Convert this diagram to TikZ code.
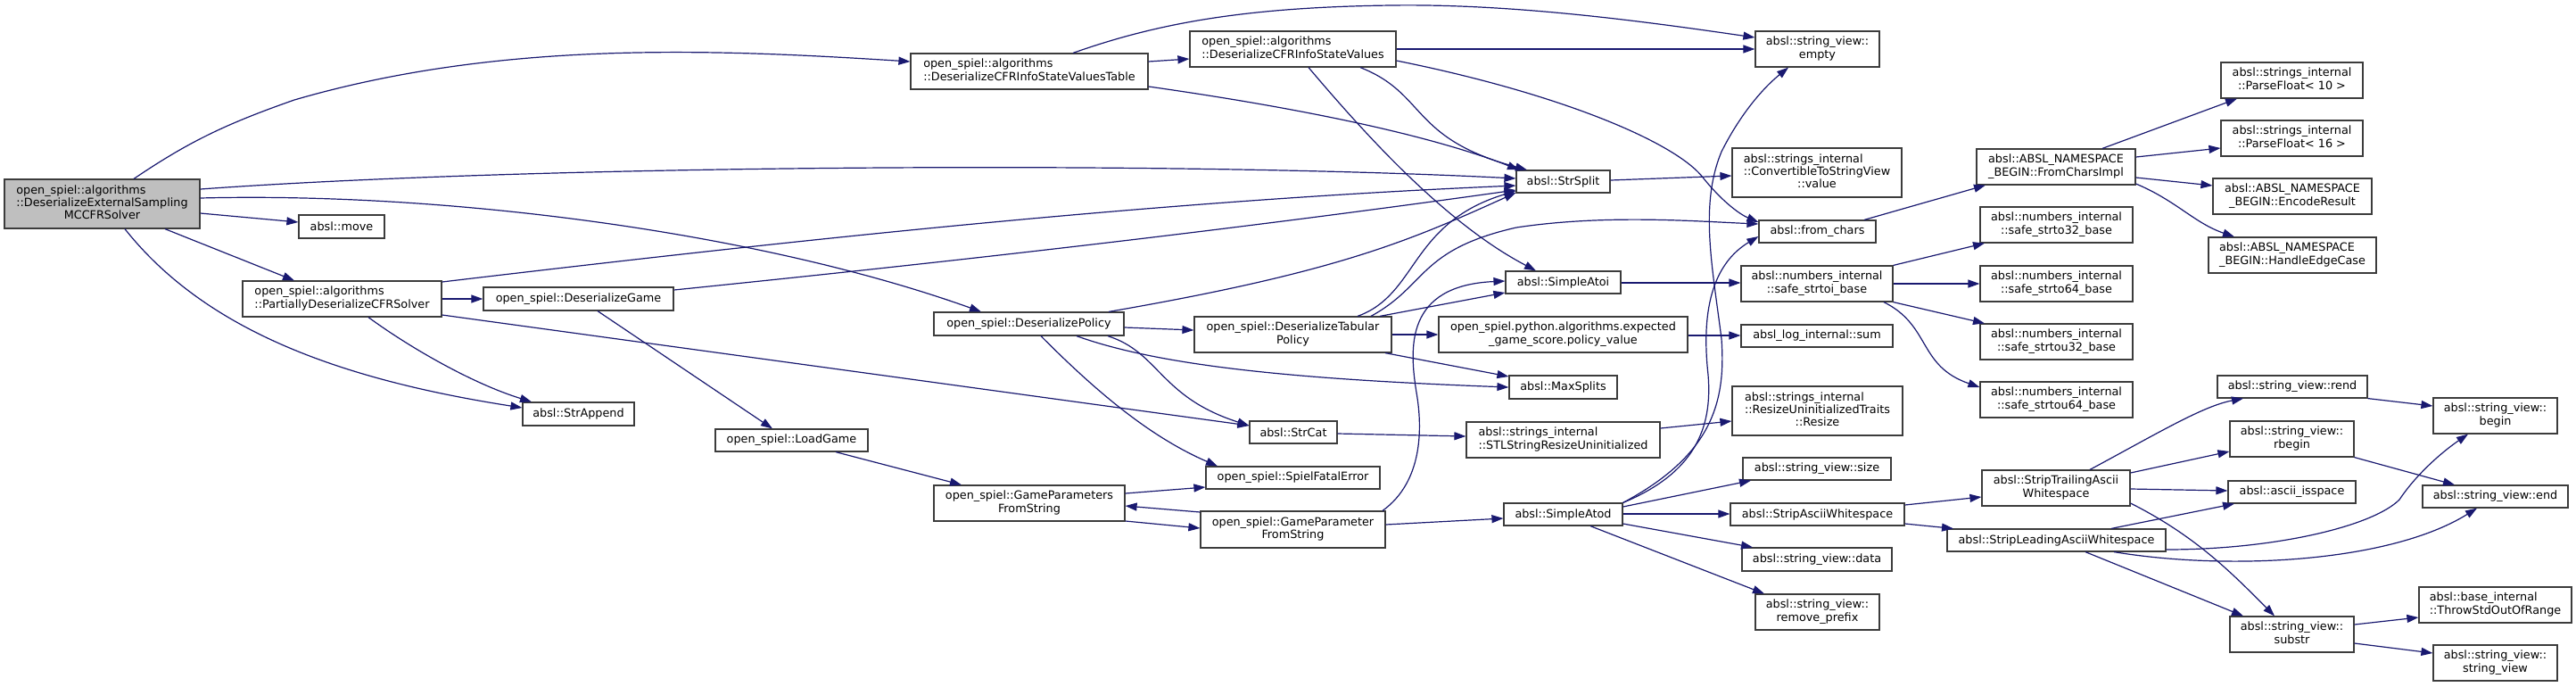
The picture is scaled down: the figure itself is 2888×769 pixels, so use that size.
\documentclass[tikz,border=0pt]{standalone}
\usepackage{fontspec}
\setmainfont{DejaVu Sans}
\usetikzlibrary{arrows.meta}
\definecolor{edgec}{HTML}{191970}
\definecolor{nodeb}{HTML}{3C3C3C}
\definecolor{mainf}{HTML}{BFBFBF}
\newcommand\twol[2]{\begin{tabular}{@{}l@{}}#1\\\multicolumn{1}{@{}c@{}}{#2}\end{tabular}}
\newcommand\threel[3]{\begin{tabular}{@{}l@{}}#1\\#2\\\multicolumn{1}{@{}c@{}}{#3}\end{tabular}}
\newcommand\nd[6]{\node[gbox,minimum width=#4pt,minimum height=#5pt] (#1) at (#2,#3) {#6};}
\tikzset{
  gbox/.style={draw=nodeb, line width=1.2pt, fill=white, inner sep=0pt,
    font=\fontsize{12.8}{14.3}\selectfont},
  ed/.style={draw=edgec, line width=1.2pt, -{Triangle[length=13pt,width=9pt]}}
}
\begin{document}
\begin{tikzpicture}[x=1pt,y=-1pt]
\fill[white] (0,0) rectangle (2888,769);
\useasboundingbox (0,0) rectangle (2888,769);
% nodes
\node[gbox,fill=mainf,minimum width=219pt,minimum height=55pt] (M) at (114.5,228.5) {\threel{open\_spiel::algorithms}{::DeserializeExternalSampling}{MCCFRSolver}};
\nd{move}{383}{254}{96}{26}{absl::move}
\nd{Partial}{383.5}{335}{223}{40}{\twol{open\_spiel::algorithms}{::PartiallyDeserializeCFRSolver}}
\nd{Game}{648.5}{335}{213}{26}{open\_spiel::DeserializeGame}
\nd{StrAppend}{648.5}{464}{125}{26}{absl::StrAppend}
\nd{LoadGame}{887.5}{493.5}{171}{25}{open\_spiel::LoadGame}
\nd{Tbl}{1154}{80}{266}{40}{\twol{open\_spiel::algorithms}{::DeserializeCFRInfoStateValuesTable}}
\nd{Vals}{1449.5}{55}{231}{40}{\twol{open\_spiel::algorithms}{::DeserializeCFRInfoStateValues}}
\nd{Policy}{1153.5}{363}{213}{26}{open\_spiel::DeserializePolicy}
\nd{Tabular}{1449.5}{375}{221}{40}{\twol{open\_spiel::DeserializeTabular}{Policy}}
\nd{GPsFS}{1154}{564}{214}{40}{\twol{open\_spiel::GameParameters}{FromString}}
\nd{StrCat}{1450}{484.5}{98}{25}{absl::StrCat}
\nd{Fatal}{1449.5}{535.5}{195}{25}{open\_spiel::SpielFatalError}
\nd{GPFS}{1449.5}{593.5}{207}{41}{\twol{open\_spiel::GameParameter}{FromString}}
\nd{StrSplit}{1752.5}{203.5}{105}{25}{absl::StrSplit}
\nd{SimpleAtoi}{1752.5}{316.5}{129}{25}{absl::SimpleAtoi}
\nd{PolVal}{1752.5}{375}{279}{40}{\twol{open\_spiel.python.algorithms.expected}{\_game\_score.policy\_value}}
\nd{MaxSplits}{1752.5}{434}{121}{26}{absl::MaxSplits}
\nd{STL}{1752.5}{493}{217}{40}{\twol{absl::strings\_internal}{::STLStringResizeUninitialized}}
\nd{SimpleAtod}{1752.5}{576.5}{133}{25}{absl::SimpleAtod}
\nd{empty}{2037.5}{55}{139}{40}{\twol{absl::string\_view::}{empty}}
\nd{Conv}{2037}{193.5}{190}{55}{\threel{absl::strings\_internal}{::ConvertibleToStringView}{::value}}
\nd{fromchars}{2037.5}{259.5}{131}{25}{absl::from\_chars}
\nd{strtoi}{2037}{318}{170}{40}{\twol{absl::numbers\_internal}{::safe\_strtoi\_base}}
\nd{sum}{2037}{376.5}{170}{25}{absl\_log\_internal::sum}
\nd{Resize}{2037.5}{460.5}{191}{55}{\threel{absl::strings\_internal}{::ResizeUninitializedTraits}{::Resize}}
\nd{size}{2037}{525.5}{166}{25}{absl::string\_view::size}
\nd{StripAscii}{2037.5}{576.5}{195}{25}{absl::StripAsciiWhitespace}
\nd{data}{2037}{627}{168}{26}{absl::string\_view::data}
\nd{prefix}{2037.5}{686}{139}{40}{\twol{absl::string\_view::}{remove\_prefix}}
\nd{FCImpl}{2305}{187}{178}{40}{\twol{absl::ABSL\_NAMESPACE}{\_BEGIN::FromCharsImpl}}
\nd{strto32}{2305.5}{252}{171}{40}{\twol{absl::numbers\_internal}{::safe\_strto32\_base}}
\nd{strto64}{2305.5}{318}{171}{40}{\twol{absl::numbers\_internal}{::safe\_strto64\_base}}
\nd{strtou32}{2305.5}{383}{171}{40}{\twol{absl::numbers\_internal}{::safe\_strtou32\_base}}
\nd{strtou64}{2305.5}{448}{171}{40}{\twol{absl::numbers\_internal}{::safe\_strtou64\_base}}
\nd{Trailing}{2305}{547}{166}{40}{\twol{absl::StripTrailingAscii}{Whitespace}}
\nd{Leading}{2305.5}{605.5}{245}{25}{absl::StripLeadingAsciiWhitespace}
\nd{PF10}{2569.5}{90}{159}{40}{\twol{absl::strings\_internal}{::ParseFloat< 10 >}}
\nd{PF16}{2569.5}{155}{159}{40}{\twol{absl::strings\_internal}{::ParseFloat< 16 >}}
\nd{Encode}{2570}{220}{178}{40}{\twol{absl::ABSL\_NAMESPACE}{\_BEGIN::EncodeResult}}
\nd{Edge}{2570}{286}{188}{40}{\twol{absl::ABSL\_NAMESPACE}{\_BEGIN::HandleEdgeCase}}
\nd{rend}{2570}{433.5}{168}{25}{absl::string\_view::rend}
\nd{rbegin}{2569.5}{492}{139}{40}{\twol{absl::string\_view::}{rbegin}}
\nd{isspace}{2569.5}{551.5}{143}{25}{absl::ascii\_isspace}
\nd{substr}{2569.5}{711}{139}{40}{\twol{absl::string\_view::}{substr}}
\nd{begin}{2797.5}{466}{139}{40}{\twol{absl::string\_view::}{begin}}
\nd{end}{2797.5}{556.5}{163}{25}{absl::string\_view::end}
\nd{Throw}{2797.5}{678}{171}{40}{\twol{absl::base\_internal}{::ThrowStdOutOfRange}}
\nd{svctor}{2797.5}{743}{139}{40}{\twol{absl::string\_view::}{string\_view}}
% edges from main
\draw[ed] (M.north -| 150,0) .. controls (210,160) and (250,140) .. (330,112) .. controls (560,45) and (800,55) .. (Tbl.west |- 0,69);
\draw[ed] (M.east |- 0,212) .. controls (600,185) and (1300,180) .. (StrSplit.west |- 0,200);
\draw[ed] (M.east |- 0,222) .. controls (500,215) and (850,260) .. (Policy.north -| 1100,0);
\draw[ed] (M.east |- 0,239) -- (move.west |- 0,249);
\draw[ed] (M.south -| 185,0) -- (Partial.north -| 330,0);
\draw[ed] (M.south -| 140,0) .. controls (230,370) and (380,425) .. (StrAppend.west |- 0,457);
% Partial
\draw[ed] (Partial.east |- 0,316) .. controls (900,268) and (1300,225) .. (StrSplit.west |- 0,208);
\draw[ed] (Partial.east |- 0,335) -- (Game.west |- 0,335);
\draw[ed] (Partial.south -| 413,0) .. controls (460,390) and (530,430) .. (StrAppend.north -| 596,0);
\draw[ed] (Partial.east |- 0,353) -- (StrCat.west |- 0,477);
% Game
\draw[ed] (Game.east |- 0,325) .. controls (1100,290) and (1400,255) .. (StrSplit.west |- 0,213);
\draw[ed] (Game.south -| 670,0) -- (LoadGame.north -| 866,0);
\draw[ed] (LoadGame.south -| 937,0) -- (GPsFS.north -| 1078,0);
% Tbl
\draw[ed] (Tbl.east |- 0,69) -- (Vals.west |- 0,66);
\draw[ed] (Tbl.north -| 1203,0) .. controls (1300,25) and (1400,8) .. (1560,6) .. controls (1700,4) and (1850,25) .. (empty.west |- 0,42);
\draw[ed] (Tbl.east |- 0,97) .. controls (1450,120) and (1600,150) .. (StrSplit.north -| 1703,0);
% Vals
\draw[ed] (Vals.east |- 0,55) -- (empty.west |- 0,55);
\draw[ed] (Vals.south -| 1525,0) .. controls (1600,105) and (1580,155) .. (StrSplit.north -| 1712,0);
\draw[ed] (Vals.south -| 1467,0) .. controls (1530,150) and (1620,250) .. (SimpleAtoi.north -| 1722,0);
\draw[ed] (Vals.east |- 0,68) .. controls (1750,105) and (1880,160) .. (1910,200) .. controls (1930,225) and (1950,240) .. (fromchars.west |- 0,249);
% Policy
\draw[ed] (Policy.east |- 0,367) -- (Tabular.west |- 0,370);
\draw[ed] (Policy.north -| 1243,0) .. controls (1500,305) and (1580,270) .. (StrSplit.west |- 0,216);
\draw[ed] (Policy.south -| 1167,0) .. controls (1230,440) and (1290,490) .. (Fatal.north -| 1365,0);
\draw[ed] (Policy.south -| 1207,0) .. controls (1300,410) and (1450,425) .. (MaxSplits.west |- 0,434);
\draw[ed] (Policy.south -| 1242,0) .. controls (1300,395) and (1300,445) .. (StrCat.west |- 0,477);
% Tabular
\draw[ed] (Tabular.north -| 1522,0) .. controls (1590,330) and (1580,250) .. (StrSplit.west |- 0,214);
\draw[ed] (Tabular.north -| 1537,0) .. controls (1600,320) and (1590,280) .. (1700,255) .. controls (1800,240) and (1900,248) .. (fromchars.west |- 0,251);
\draw[ed] (Tabular.north -| 1547,0) -- (SimpleAtoi.west |- 0,328);
\draw[ed] (Tabular.east |- 0,375) -- (PolVal.west |- 0,375);
\draw[ed] (Tabular.south -| 1553,0) -- (MaxSplits.west |- 0,422);
% GameParameters
\draw[ed] (GPsFS.east |- 0,553) -- (Fatal.west |- 0,546);
\draw[ed] (GPsFS.east |- 0,584) -- (GPFS.west |- 0,592);
\draw[ed] (GPFS.west |- 0,574) -- (GPsFS.east |- 0,567);
\draw[ed] (GPFS.north -| 1550,0) .. controls (1595,540) and (1595,480) .. (1588,440) .. controls (1580,390) and (1575,320) .. (SimpleAtoi.west |- 0,315);
\draw[ed] (GPFS.east |- 0,588) -- (SimpleAtod.west |- 0,581);
% middle column
\draw[ed] (StrCat.east |- 0,486) -- (STL.west |- 0,489);
\draw[ed] (StrSplit.east |- 0,202) -- (Conv.west |- 0,197);
\draw[ed] (SimpleAtoi.east |- 0,317) -- (strtoi.west |- 0,317);
\draw[ed] (PolVal.east |- 0,376) -- (sum.west |- 0,376);
\draw[ed] (STL.east |- 0,480) -- (Resize.west |- 0,472);
\draw[ed] (SimpleAtod.north east) .. controls (1920,510) and (1935,450) .. (1930,380) .. controls (1920,300) and (1905,230) .. (1930,170) .. controls (1950,130) and (1975,100) .. (empty.south -| 2005,0);
\draw[ed] (SimpleAtod.north east) .. controls (1900,530) and (1920,480) .. (1915,420) .. controls (1905,330) and (1930,290) .. (fromchars.west |- 0,265);
\draw[ed] (SimpleAtod.east |- 0,568) -- (size.south -| 1963,0);
\draw[ed] (SimpleAtod.east |- 0,576) -- (StripAscii.west |- 0,576);
\draw[ed] (SimpleAtod.east |- 0,587) -- (data.north -| 1965,0);
\draw[ed] (SimpleAtod.south -| 1783,0) -- (prefix.north -| 1978,0);
% right part
\draw[ed] (fromchars.north -| 2090,0) -- (FCImpl.south -| 2226,0);
\draw[ed] (strtoi.north east) -- (strto32.south -| 2225,0);
\draw[ed] (strtoi.east |- 0,318) -- (strto64.west |- 0,318);
\draw[ed] (strtoi.south east) -- (strtou32.north -| 2225,0);
\draw[ed] (strtoi.south -| 2112,0) .. controls (2165,365) and (2150,410) .. (strtou64.west |- 0,434);
\draw[ed] (FCImpl.north -| 2357,0) -- (PF10.south -| 2508,0);
\draw[ed] (FCImpl.east |- 0,176) -- (PF16.west |- 0,166);
\draw[ed] (FCImpl.east |- 0,199) -- (Encode.west |- 0,208);
\draw[ed] (FCImpl.east |- 0,206) .. controls (2440,225) and (2460,250) .. (Edge.north -| 2505,0);
\draw[ed] (StripAscii.east |- 0,566) -- (Trailing.west |- 0,557);
\draw[ed] (StripAscii.east |- 0,587) -- (Leading.north -| 2190,0);
\draw[ed] (Trailing.north -| 2343,0) .. controls (2420,485) and (2470,455) .. (rend.south -| 2515,0);
\draw[ed] (Trailing.east |- 0,530) -- (rbegin.west |- 0,506);
\draw[ed] (Trailing.east |- 0,548) -- (isspace.west |- 0,550);
\draw[ed] (Trailing.east |- 0,564) .. controls (2460,600) and (2500,640) .. (substr.north -| 2550,0);
\draw[ed] (Leading.north -| 2367,0) -- (isspace.south -| 2505,0);
\draw[ed] (Leading.east |- 0,616) .. controls (2550,616) and (2660,590) .. (2690,560) .. controls (2710,530) and (2740,505) .. (begin.south -| 2767,0);
\draw[ed] (Leading.south -| 2370,0) .. controls (2500,640) and (2680,630) .. (end.south -| 2777,0);
\draw[ed] (Leading.south -| 2338,0) -- (substr.north -| 2515,0);
\draw[ed] (rend.south east) -- (begin.west |- 0,455);
\draw[ed] (rbegin.south east) -- (end.north -| 2752,0);
\draw[ed] (substr.east |- 0,700) -- (Throw.west |- 0,692);
\draw[ed] (substr.east |- 0,721) -- (svctor.west |- 0,732);
\end{tikzpicture}
\end{document}
